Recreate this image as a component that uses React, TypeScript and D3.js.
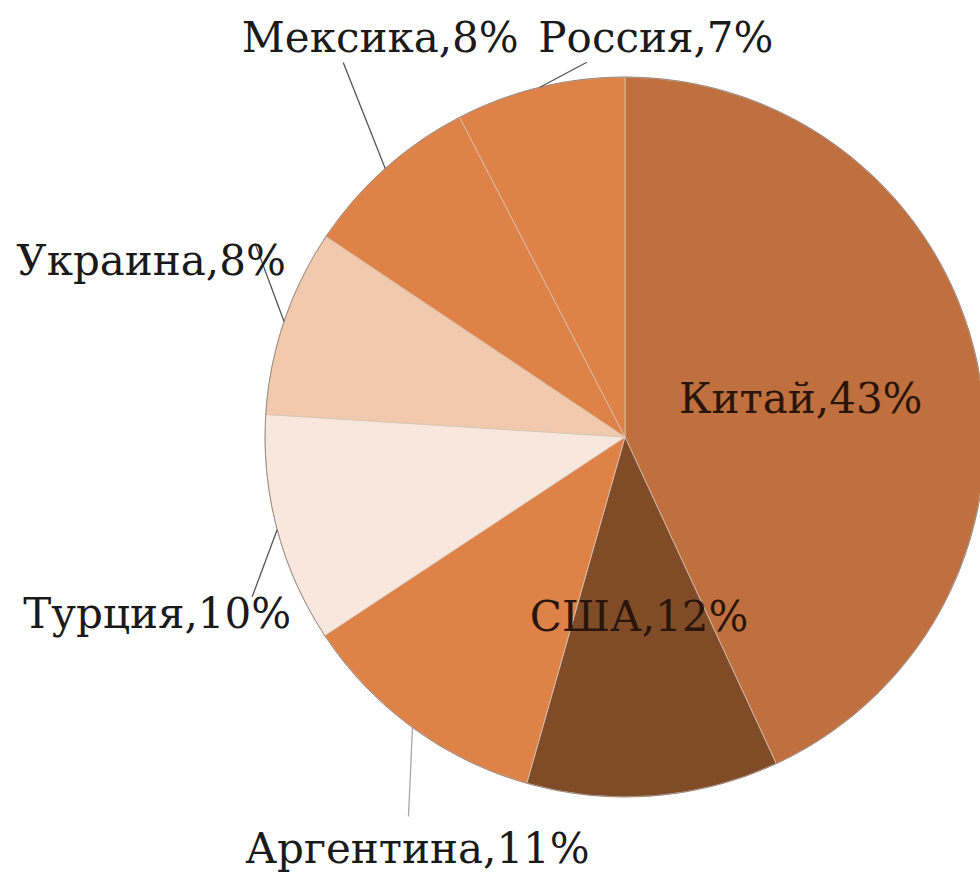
import React from "react";
import * as d3 from "d3";

const WIDTH = 980;
const HEIGHT = 873;
const CX = 625;
const CY = 437;
const RADIUS = 360;

// slice data, clockwise from 12 o'clock
const countries = ["Китай", "США", "Аргентина", "Турция", "Украина", "Мексика", "Россия"];
const shares = [43.1, 11.3, 11.3, 10.3, 8.4, 8.0, 7.6];
const shareLabels = ["43%", "12%", "11%", "10%", "8%", "8%", "7%"];
const colors = ["#BF703E", "#804C28", "#DF8248", "#F8E7DD", "#F1C9AD", "#DF8248", "#DF8248"];

// label placement (Excel "best fit" look): inside labels or offsets from the arc edge
const labelLayout = [
  { inside: true },
  { inside: true },
  { inside: false, dx: 5, dy: 135, lx: -4, ly: 89, lineColor: "#a8a8a8" },
  { inside: false, dx: -120, dy: 98, lx: -25, ly: 67, lineColor: "#555" },
  { inside: false, dx: -133, dy: -46, lx: -29, ly: -78, lineColor: "#555" },
  { inside: false, dx: -5, dy: -116, lx: -42, ly: -106, lineColor: "#555" },
  { inside: false, dx: 116, dy: -35, lx: 47, ly: -25, lineColor: "#555" },
];

const FONT = "'DejaVu Serif', serif";
const FONT_SIZE = 42;

type Datum = { name: string; value: number; label: string; color: string };

const App = () => {
  const data: Datum[] = countries.map((name, i) => ({
    name,
    value: shares[i],
    label: `${name},${shareLabels[i]}`,
    color: colors[i],
  }));

  const pie = d3
    .pie<Datum>()
    .sort(null)
    .value((d) => d.value);
  const arcs = pie(data);

  const arcGen = d3.arc<d3.PieArcDatum<Datum>>().innerRadius(0).outerRadius(RADIUS);
  const innerLabelArc = d3
    .arc<d3.PieArcDatum<Datum>>()
    .innerRadius(RADIUS * 0.5)
    .outerRadius(RADIUS * 0.5);

  return (
    <svg
      width={WIDTH}
      height={HEIGHT}
      style={{ position: "absolute", left: 0, top: 0, background: "#fff" }}
    >
      <g transform={`translate(${CX},${CY})`}>
        {arcs.map((a) => (
          <path
            key={a.data.name}
            d={arcGen(a) || ""}
            fill={a.data.color}
            stroke="#d6c4b6"
            strokeWidth={0.8}
          />
        ))}
        <circle r={RADIUS} fill="none" stroke="#9a8a80" strokeWidth={1} />
        {arcs.map((a, i) => {
          const layout = labelLayout[i];
          if (layout.inside) {
            const [x, y] = innerLabelArc.centroid(a);
            return (
              <text
                key={a.data.name}
                x={x}
                y={y}
                textAnchor="middle"
                dominantBaseline="central"
                fontFamily={FONT}
                fontSize={FONT_SIZE}
                fill="#2a150a"
              >
                {a.data.label}
              </text>
            );
          }
          const mid = (a.startAngle + a.endAngle) / 2;
          const px = Math.sin(mid) * RADIUS;
          const py = -Math.cos(mid) * RADIUS;
          return (
            <g key={a.data.name}>
              <line
                x1={px}
                y1={py}
                x2={px + (layout.lx ?? 0)}
                y2={py + (layout.ly ?? 0)}
                stroke={layout.lineColor}
                strokeWidth={1.3}
              />
              <text
                x={px + (layout.dx ?? 0)}
                y={py + (layout.dy ?? 0)}
                textAnchor="middle"
                fontFamily={FONT}
                fontSize={FONT_SIZE}
                fill="#1a1a1a"
              >
                {a.data.label}
              </text>
            </g>
          );
        })}
      </g>
    </svg>
  );
};

export default App;
